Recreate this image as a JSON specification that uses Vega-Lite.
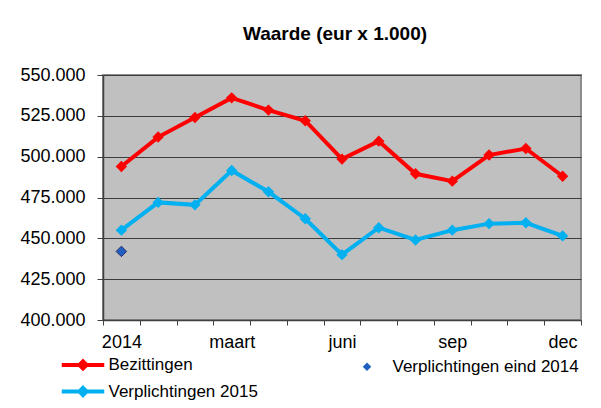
{
  "$schema": "https://vega.github.io/schema/vega-lite/v6.json",
  "width": 478,
  "height": 245,
  "autosize": {"type": "none"},
  "padding": {"left": 103, "top": 75, "right": 20, "bottom": 88},
  "background": "white",
  "config": {
    "locale": {"number": {"decimal": ",", "thousands": ".", "grouping": [3], "currency": ["€", ""]}},
    "font": "Liberation Sans",
    "view": {"fill": "#c0c0c0", "stroke": "#8c8c8c", "strokeWidth": 2}
  },
  "title": {
    "text": "Waarde (eur x 1.000)",
    "fontSize": 19,
    "fontWeight": "bold",
    "font": "Liberation Sans",
    "color": "#000000",
    "anchor": "middle",
    "frame": "group",
    "baseline": "alphabetic",
    "offset": 7,
    "dx": -7
  },
  "data": {
    "values": [
      {"m": "2014", "s": "Bezittingen", "v": 494000},
      {"m": "jan", "s": "Bezittingen", "v": 512000},
      {"m": "feb", "s": "Bezittingen", "v": 524000},
      {"m": "maart", "s": "Bezittingen", "v": 536000},
      {"m": "apr", "s": "Bezittingen", "v": 528500},
      {"m": "mei", "s": "Bezittingen", "v": 522000},
      {"m": "juni", "s": "Bezittingen", "v": 498500},
      {"m": "juli", "s": "Bezittingen", "v": 509500},
      {"m": "aug", "s": "Bezittingen", "v": 489500},
      {"m": "sep", "s": "Bezittingen", "v": 485000},
      {"m": "okt", "s": "Bezittingen", "v": 501000},
      {"m": "nov", "s": "Bezittingen", "v": 505000},
      {"m": "dec", "s": "Bezittingen", "v": 488000},
      {"m": "2014", "s": "Verplichtingen 2015", "v": 455000},
      {"m": "jan", "s": "Verplichtingen 2015", "v": 472000},
      {"m": "feb", "s": "Verplichtingen 2015", "v": 470500},
      {"m": "maart", "s": "Verplichtingen 2015", "v": 491500},
      {"m": "apr", "s": "Verplichtingen 2015", "v": 478500},
      {"m": "mei", "s": "Verplichtingen 2015", "v": 462000},
      {"m": "juni", "s": "Verplichtingen 2015", "v": 440000},
      {"m": "juli", "s": "Verplichtingen 2015", "v": 456500},
      {"m": "aug", "s": "Verplichtingen 2015", "v": 449000},
      {"m": "sep", "s": "Verplichtingen 2015", "v": 455000},
      {"m": "okt", "s": "Verplichtingen 2015", "v": 459000},
      {"m": "nov", "s": "Verplichtingen 2015", "v": 459500},
      {"m": "dec", "s": "Verplichtingen 2015", "v": 451500},
      {"m": "2014", "s": "Verplichtingen eind 2014", "v": 442000}
    ]
  },
  "encoding": {
    "x": {
      "field": "m",
      "type": "ordinal",
      "scale": {
        "type": "band",
        "domain": ["2014", "jan", "feb", "maart", "apr", "mei", "juni", "juli", "aug", "sep", "okt", "nov", "dec"],
        "paddingInner": 0,
        "paddingOuter": 0
      },
      "axis": {
        "title": null,
        "labelAngle": 0,
        "tickBand": "extent",
        "labelExpr": "indexof(['2014','maart','juni','sep','dec'], datum.label) >= 0 ? datum.label : ''",
        "labelOverlap": false,
        "labelFontSize": 18,
        "labelFont": "Liberation Sans",
        "labelColor": "#000000",
        "tickSize": 5,
        "tickColor": "#404040",
        "tickWidth": 1,
        "domainColor": "#404040",
        "domainWidth": 1.5,
        "labelPadding": 8,
        "grid": false
      }
    },
    "y": {
      "field": "v",
      "type": "quantitative",
      "scale": {"domain": [400000, 550000], "nice": false, "zero": false},
      "axis": {
        "title": null,
        "values": [400000, 425000, 450000, 475000, 500000, 525000, 550000],
        "format": ",.0f",
        "labelFontSize": 18,
        "labelFont": "Liberation Sans",
        "labelColor": "#000000",
        "tickSize": 6,
        "tickColor": "#404040",
        "domainColor": "#404040",
        "domainWidth": 1.5,
        "labelPadding": 12,
        "grid": true,
        "gridColor": "#3c3c3c",
        "gridWidth": 1.2
      }
    },
    "color": {
      "field": "s",
      "type": "nominal",
      "scale": {
        "domain": ["Bezittingen", "Verplichtingen 2015", "Verplichtingen eind 2014"],
        "range": ["#ff0000", "#00b0f0", "#1f5fbf"]
      },
      "legend": {
        "title": null,
        "orient": "none",
        "legendX": -28.5,
        "legendY": 281,
        "values": ["Bezittingen", "Verplichtingen 2015", "Verplichtingen eind 2014"],
        "columns": 2,
        "columnPadding": 100,
        "rowPadding": 2,
        "symbolSize": 289,
        "labelFontSize": 17,
        "labelFont": "Liberation Sans",
        "labelOffset": 17,
        "labelLimit": 400,
        "labelColor": "#000000",
        "padding": 0,
        "encode": {
          "symbols": {
            "update": {
              "shape": {"signal": "datum.value === 'Verplichtingen eind 2014' ? 'M0,-0.5L0.5,0L0,0.5L-0.5,0Z' : 'M-2.5,0L2.5,0M0,-0.42L0.42,0L0,0.42L-0.42,0Z'"},
              "fill": {"signal": "scale('color', datum.value)"},
              "stroke": {"signal": "datum.value === 'Verplichtingen eind 2014' ? 'transparent' : scale('color', datum.value)"},
              "strokeWidth": {"signal": "datum.value === 'Verplichtingen eind 2014' ? 0 : 4"},
              "opacity": {"value": 1},
              "fillOpacity": {"value": 1},
              "strokeOpacity": {"value": 1}
            }
          }
        }
      }
    }
  },
  "layer": [
    {
      "transform": [{"filter": "datum.s !== 'Verplichtingen eind 2014'"}],
      "mark": {
        "type": "line",
        "strokeWidth": 4,
        "point": {"filled": true, "shape": "diamond", "size": 130, "opacity": 1}
      }
    },
    {
      "transform": [{"filter": "datum.s === 'Verplichtingen eind 2014'"}],
      "mark": {
        "type": "point",
        "filled": true,
        "shape": "diamond",
        "size": 110,
        "stroke": "#2a2a6a",
        "strokeWidth": 1,
        "opacity": 1
      }
    }
  ]
}
